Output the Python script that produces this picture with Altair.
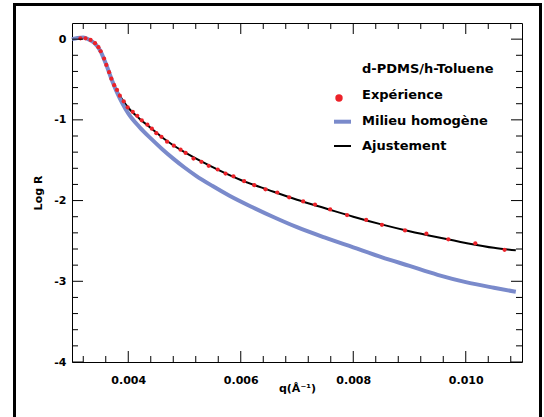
import altair as alt
import pandas as pd

# ---------------- data ----------------
exp_q = [0.00315, 0.00324, 0.00333, 0.00341, 0.00347, 0.00351, 0.00357, 0.00361, 0.00366, 0.00370,
         0.00375, 0.00380, 0.00385, 0.00392, 0.00399, 0.00408, 0.00416, 0.00424, 0.00434, 0.00442,
         0.00450, 0.00459, 0.00469, 0.00481, 0.00493, 0.00502, 0.00516, 0.00530, 0.00543, 0.00559,
         0.00573, 0.00587, 0.00606, 0.00624, 0.00644, 0.00665, 0.00686, 0.00711, 0.00732, 0.00759,
         0.00789, 0.00823, 0.00851, 0.00892, 0.00930, 0.00969, 0.01017, 0.01069]
exp_logr = [0.01, 0.01, -0.01, -0.05, -0.10, -0.15, -0.24, -0.32, -0.41, -0.49,
            -0.57, -0.63, -0.70, -0.77, -0.845, -0.90, -0.95, -1.005, -1.06, -1.11,
            -1.165, -1.21, -1.27, -1.32, -1.37, -1.41, -1.48, -1.52, -1.57, -1.615,
            -1.665, -1.70, -1.76, -1.81, -1.86, -1.90, -1.96, -2.01, -2.05, -2.11,
            -2.18, -2.24, -2.30, -2.37, -2.41, -2.48, -2.53, -2.61]

fit_q = [0.00300, 0.00310, 0.00320, 0.00330, 0.00340, 0.00350, 0.00360, 0.00370, 0.00380, 0.00390,
         0.00400, 0.00420, 0.00440, 0.00460, 0.00480, 0.00500, 0.00530, 0.00560, 0.00600, 0.00650,
         0.00700, 0.00750, 0.00800, 0.00850, 0.00900, 0.00950, 0.01000, 0.01050, 0.01089]
fit_logr = [0.000, 0.015, 0.020, -0.005, -0.050, -0.140, -0.300, -0.480, -0.640, -0.755,
            -0.850, -0.985, -1.100, -1.215, -1.315, -1.400, -1.515, -1.620, -1.745, -1.870,
            -1.990, -2.095, -2.200, -2.295, -2.380, -2.455, -2.525, -2.585, -2.617]

hom_q = [0.00300, 0.00310, 0.00320, 0.00330, 0.00340, 0.00350, 0.00360, 0.00370, 0.00380, 0.00390,
         0.00400, 0.00420, 0.00440, 0.00460, 0.00480, 0.00500, 0.00520, 0.00550, 0.00580, 0.00620,
         0.00660, 0.00700, 0.00750, 0.00800, 0.00850, 0.00900, 0.00950, 0.01000, 0.01050, 0.01089]
hom_logr = [0.000, 0.015, 0.020, -0.005, -0.050, -0.140, -0.300, -0.490, -0.660, -0.800,
            -0.920, -1.090, -1.230, -1.360, -1.480, -1.590, -1.690, -1.820, -1.940, -2.080,
            -2.210, -2.330, -2.460, -2.580, -2.700, -2.810, -2.920, -3.010, -3.080, -3.130]

series_names = ["Expérience", "Milieu homogène", "Ajustement"]
legend_title = "d-PDMS/h-Toluene"

x_major = [0.004, 0.006, 0.008, 0.010]
x_minor = [0.0032, 0.0036, 0.0044, 0.0048, 0.0052, 0.0056, 0.0064, 0.0068,
           0.0072, 0.0076, 0.0084, 0.0088, 0.0092, 0.0096, 0.0104, 0.0108]
y_major = [0, -1, -2, -3, -4]
y_minor = [-0.2, -0.4, -0.6, -0.8, -1.2, -1.4, -1.6, -1.8, -2.2, -2.4, -2.6, -2.8,
           -3.2, -3.4, -3.6, -3.8]

# ---------------- layout ----------------
W, H = 450, 339
PAD = {"left": 72, "top": 23, "right": 22, "bottom": 55}
FONT = "DejaVu Sans"
RED = "#ec2229"
BLUE = "#7a8acb"
MAJ, MIN = 11, 6

xs = alt.Scale(domain=[0.003, 0.011], nice=False, zero=False)
ys = alt.Scale(domain=[-4, 0.2], nice=False, zero=False)

fit_df = pd.DataFrame({"q": fit_q, "logr": fit_logr})
hom_df = pd.DataFrame({"q": hom_q, "logr": hom_logr})
exp_df = pd.DataFrame({"q": exp_q, "logr": exp_logr})

x_axis = alt.Axis(values=x_major, format=".3f", ticks=False, domain=False, grid=False,
                  labelFont=FONT, labelFontWeight="bold", labelFontSize=11, labelColor="black",
                  labelPadding=12, title="q(Å⁻¹)", titleFont=FONT, titleFontWeight="bold",
                  titleFontSize=11, titleColor="black", titleY=26, titleBaseline="middle")
y_axis = alt.Axis(values=y_major, labelExpr="'' + datum.value", ticks=False, domain=False, grid=False,
                  labelFont=FONT, labelFontWeight="bold", labelFontSize=11, labelColor="black",
                  labelPadding=6, title="Log R", titleFont=FONT, titleFontWeight="bold",
                  titleFontSize=11, titleColor="black", titleX=-34, titleY=H / 2,
                  titleAngle=270, titleAlign="center", titleBaseline="middle")

fit_line = alt.Chart(fit_df).mark_line(color="black", strokeWidth=2, interpolate="monotone").encode(
    x=alt.X("q:Q", scale=xs, axis=x_axis),
    y=alt.Y("logr:Q", scale=ys, axis=y_axis),
)
hom_line = alt.Chart(hom_df).mark_line(color=BLUE, strokeWidth=4, interpolate="monotone").encode(
    x=alt.X("q:Q", scale=xs), y=alt.Y("logr:Q", scale=ys)
)
exp_pts = alt.Chart(exp_df).mark_point(filled=True, color=RED, size=18, opacity=1).encode(
    x=alt.X("q:Q", scale=xs), y=alt.Y("logr:Q", scale=ys)
)

# ---- inward ticks on all four sides ----
def xticks(vals, length):
    d = pd.DataFrame({"q": vals})
    bot = alt.Chart(d).mark_rule(color="black", strokeWidth=1).encode(
        x=alt.X("q:Q", scale=xs), y=alt.value(H), y2=alt.value(H - length))
    top = alt.Chart(d).mark_rule(color="black", strokeWidth=1).encode(
        x=alt.X("q:Q", scale=xs), y=alt.value(0), y2=alt.value(length))
    return [bot, top]

def yticks(vals, length):
    d = pd.DataFrame({"logr": vals})
    left = alt.Chart(d).mark_rule(color="black", strokeWidth=1).encode(
        y=alt.Y("logr:Q", scale=ys), x=alt.value(0), x2=alt.value(length))
    right = alt.Chart(d).mark_rule(color="black", strokeWidth=1).encode(
        y=alt.Y("logr:Q", scale=ys), x=alt.value(W), x2=alt.value(W - length))
    return [left, right]

ticks = xticks(x_major, MAJ) + xticks(x_minor, MIN) + yticks(y_major, MAJ) + yticks(y_minor, MIN)

# ---- legend (drawn) ----
one = pd.DataFrame({"k": [0]})
LX = 290
leg_title = alt.Chart(one).mark_text(text=legend_title, align="left", baseline="middle",
                                     font=FONT, fontWeight="bold", fontSize=13, color="black").encode(
    x=alt.value(LX), y=alt.value(45.5))
leg_texts = [
    alt.Chart(one).mark_text(text=name, align="left", baseline="middle", font=FONT,
                             fontWeight="bold", fontSize=13, color="black").encode(
        x=alt.value(LX), y=alt.value(yy))
    for name, yy in zip(series_names, [72, 98, 123])
]
leg_dot = alt.Chart(one).mark_point(filled=True, color=RED, size=55, opacity=1).encode(
    x=alt.value(267), y=alt.value(75))
leg_blue = alt.Chart(one).mark_rule(color=BLUE, strokeWidth=4).encode(
    x=alt.value(262), x2=alt.value(279), y=alt.value(98.7))
leg_black = alt.Chart(one).mark_rule(color="black", strokeWidth=2).encode(
    x=alt.value(262), x2=alt.value(279), y=alt.value(123))

# ---- outer frame ----
frame = alt.Chart(one).mark_rect(filled=False, stroke="black", strokeWidth=3).encode(
    x=alt.value(-57.5), x2=alt.value(468.5), y=alt.value(-18.5), y2=alt.value(H + 70))

chart = alt.layer(
    fit_line, hom_line, exp_pts, *ticks, leg_title, *leg_texts, leg_dot, leg_blue, leg_black, frame
).properties(
    width=W, height=H, autosize=alt.AutoSizeParams(type="none"), padding=PAD,
    background="white"
).configure_view(stroke="black", strokeWidth=1)

chart.save("out.html", embed_options={"renderer": "svg", "actions": False})
